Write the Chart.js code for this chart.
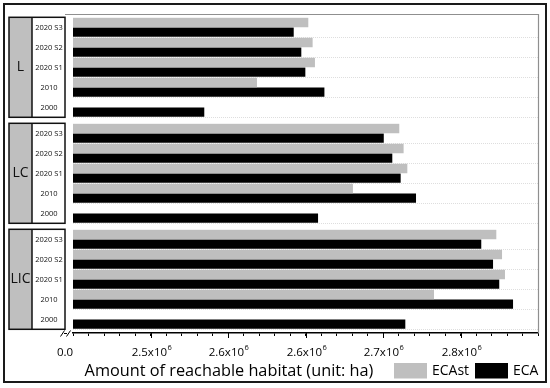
<!DOCTYPE html>
<html><head><meta charset="utf-8">
<script src="https://cdn.jsdelivr.net/npm/chart.js@4.4.0/dist/chart.umd.min.js"></script>
<style>html,body{margin:0;padding:0;background:#fff;}#wrap{width:550px;height:388px;position:relative;}</style>
</head><body><div id="wrap"><canvas id="c" width="550" height="388"></canvas></div>
<script>
// ---- data ----
const categories = ['2020 S3', '2020 S2', '2020 S1', '2010', '2000'];
const groups = ['L', 'LC', 'LIC'];
const seriesNames = ['ECAst', 'ECA'];
const ecastL   = [2651800, 2654600, 2656100, 2618700, null];
const ecaL     = [2642400, 2647300, 2649900, 2662200, 2584700];
const ecastLC  = [2710500, 2713300, 2715700, 2680600, null];
const ecaLC    = [2700500, 2706000, 2711400, 2721300, 2658100];
const ecastLIC = [2773100, 2776800, 2778700, 2732900, null];
const ecaLIC   = [2763400, 2771000, 2775000, 2783900, 2714400];
const majorTickValues = [2550000, 2600000, 2650000, 2700000, 2750000];
const majorTickLabels = ['2.5x10⁶', '2.6x10⁶', '2.6x10⁶', '2.7x10⁶', '2.8x10⁶'];
const breakTickLabel = '0.0';
const axisTitle = 'Amount of reachable habitat (unit: ha)';
const xMin = 2500000, xMax = 2800000, minorStep = 10000;

const GRAY = '#bfbfbf', BLACK = '#000000';
const FONT = "'Open Sans', 'DejaVu Sans', sans-serif";
Chart.defaults.font.family = FONT;

const groupIds = ['yL', 'yLC', 'yLIC'];
const groupData = [[ecastL, ecaL], [ecastLC, ecaLC], [ecastLIC, ecaLIC]];
const datasets = [];
groups.forEach((g, gi) => {
  seriesNames.forEach((s, si) => {
    datasets.push({
      label: s, data: groupData[gi][si], indexAxis: 'y',
      backgroundColor: si === 0 ? GRAY : BLACK,
      borderWidth: 0, yAxisID: groupIds[gi], xAxisID: 'x',
      categoryPercentage: 0.96, barPercentage: 0.97, clip: 0
    });
  });
});

const zeroWidth = s => { s.width = 0; };
function groupScale(weight, order) {
  return {
    type: 'category', labels: categories, position: 'left', stack: 'rows',
    stackWeight: weight, weight: order, offset: true,
    border: { display: false, dash: [1, 1] },
    ticks: { display: false },
    grid: {
      display: true, offset: true, drawTicks: false, lineWidth: 1,
      color: c => (c.index === 0 || c.index === categories.length) ? 'rgba(0,0,0,0)' : '#dedede'
    },
    afterFit: zeroWidth
  };
}
function spacer(weight, order) {
  return {
    type: 'linear', position: 'left', stack: 'rows', stackWeight: weight, weight: order,
    display: true, grid: { display: false, drawTicks: false }, ticks: { display: false },
    border: { display: false }, afterFit: zeroWidth
  };
}

const decor = {
  id: 'decor',
  afterDraw(chart) {
    const ctx = chart.ctx, ca = chart.chartArea, xs = chart.scales.x;
    ctx.save();
    // outer border
    ctx.strokeStyle = '#1a1a1a'; ctx.lineWidth = 2;
    ctx.strokeRect(4, 4, 542, 378);
    // plot frame (top / right)
    ctx.strokeStyle = '#8f8f8f'; ctx.lineWidth = 1.2;
    ctx.beginPath();
    ctx.moveTo(ca.left - 8, ca.top + 0.5);
    ctx.lineTo(ca.right + 0.5, ca.top + 0.5);
    ctx.lineTo(ca.right + 0.5, ca.bottom);
    ctx.stroke();
    // group label boxes
    const bl = ca.left - 64, bs = ca.left - 41, br = ca.left - 8;
    groupIds.forEach((id, gi) => {
      const s = chart.scales[id];
      const t = s.top, b = s.bottom;
      ctx.fillStyle = GRAY; ctx.fillRect(bl, t, bs - bl, b - t);
      ctx.fillStyle = '#fff'; ctx.fillRect(bs, t, br - bs, b - t);
      ctx.strokeStyle = '#111'; ctx.lineWidth = 1.5;
      ctx.strokeRect(bl, t, br - bl, b - t);
      ctx.beginPath(); ctx.moveTo(bs, t); ctx.lineTo(bs, b); ctx.stroke();
      ctx.fillStyle = '#111'; ctx.textAlign = 'center'; ctx.textBaseline = 'middle';
      ctx.font = '14px ' + FONT;
      ctx.fillText(groups[gi], (bl + bs) / 2, (t + b) / 2);
      ctx.font = '7.5px ' + FONT;
      categories.forEach((c, i) => {
        ctx.fillText(c, (bs + br) / 2 + 0.5, s.getPixelForTick(i) + 0.5);
      });
    });
    // major tick extension and labels
    ctx.strokeStyle = '#000'; ctx.lineWidth = 1;
    const yb = ca.bottom;
    majorTickValues.forEach((v, i) => {
      const px = Math.round(xs.getPixelForValue(v)) + 0.5;
      ctx.beginPath(); ctx.moveTo(px, yb); ctx.lineTo(px, yb + 5); ctx.stroke();
      const lab = majorTickLabels[i];
      const base = lab.slice(0, -1), sup = lab.slice(-1) === '⁶' ? '6' : lab.slice(-1);
      ctx.font = '11.5px ' + FONT; const w1 = ctx.measureText(base).width;
      ctx.font = '7.5px ' + FONT; const w2 = ctx.measureText(sup).width;
      const x0 = px - (w1 + w2) / 2;
      ctx.fillStyle = '#000'; ctx.textAlign = 'left'; ctx.textBaseline = 'alphabetic';
      ctx.font = '11.5px ' + FONT; ctx.fillText(base, x0, yb + 22.5);
      ctx.font = '7.5px ' + FONT; ctx.fillText(sup, x0 + w1 + 0.5, yb + 16.5);
    });
    // break label and marks
    ctx.font = '11.5px ' + FONT; ctx.textAlign = 'center';
    ctx.fillText(breakTickLabel, ca.left - 8, yb + 22.5);
    ctx.lineWidth = 1;
    ctx.beginPath();
    ctx.moveTo(ca.left - 12.5, yb + 3.5); ctx.lineTo(ca.left - 8.5, yb - 2.5);
    ctx.moveTo(ca.left - 6.5, yb + 3.5); ctx.lineTo(ca.left - 2.5, yb - 2.5);
    ctx.moveTo(ca.left - 9, yb + 0.5); ctx.lineTo(ca.left - 6, yb + 0.5);
    ctx.stroke();
    // axis title
    ctx.font = '16.3px ' + FONT; ctx.textAlign = 'center'; ctx.textBaseline = 'alphabetic';
    ctx.fillText(axisTitle, 229, 376);
    // legend
    const d = chart.data.datasets;
    const items = [{x: 394, ds: d[0]}, {x: 475, ds: d[1]}];
    ctx.font = '14px ' + FONT; ctx.textAlign = 'left'; ctx.textBaseline = 'middle';
    items.forEach(it => {
      ctx.fillStyle = it.ds.backgroundColor; ctx.fillRect(it.x, 363, 33, 15.5);
      ctx.fillStyle = '#000'; ctx.fillText(it.ds.label, it.x + 38, 371);
    });
    ctx.restore();
  }
};

const chart = new Chart(document.getElementById('c'), {
  type: 'bar',
  data: { labels: categories, datasets },
  options: {
    responsive: false, animation: false, devicePixelRatio: 1,
    layout: { padding: { left: 73, right: 12, top: 14, bottom: 0 } },
    plugins: { legend: { display: false }, tooltip: { enabled: false } },
    scales: {
      x: {
        type: 'linear', position: 'bottom', min: xMin, max: xMax, offset: false,
        ticks: { display: false, stepSize: minorStep, maxTicksLimit: 100 },
        grid: { display: true, offset: false, drawOnChartArea: false, drawTicks: true, tickLength: 3, tickColor: '#000', tickWidth: 1 },
        border: { display: true, color: '#000', width: 1.5 },
        afterFit: s => { s.height = 55; }
      },
      padTop: spacer(3.3, 7),
      yL: groupScale(100, 6),
      gap1: spacer(6, 5),
      yLC: groupScale(100, 4),
      gap2: spacer(6, 3),
      yLIC: groupScale(100, 2),
      padBot: spacer(3.7, 1)
    }
  },
  plugins: [decor]
});
</script></body></html>
